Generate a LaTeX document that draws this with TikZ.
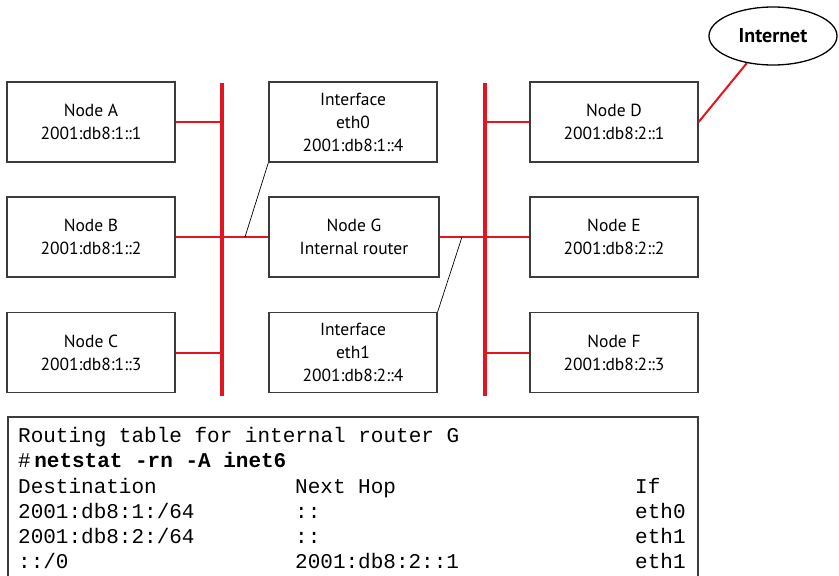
\documentclass[tikz,border=0pt]{standalone}
\usepackage{fontspec}
\setmainfont{PT Sans}
\newfontfamily\tabfont{Liberation Mono}
\usetikzlibrary{shapes.geometric}
\definecolor{boxline}{RGB}{60,60,60}
\definecolor{netred}{RGB}{230,20,30}
\tikzset{
  hostbox/.style={draw=boxline, line width=1.3pt, minimum width=168pt, minimum height=80pt,
    align=center, inner sep=0pt, font=\fontsize{17.5}{23}\selectfont},
  bus/.style={draw=netred, line width=4pt},
  branch/.style={draw=netred, line width=2pt},
  lead/.style={draw=black, line width=0.7pt},
  tabtext/.style={anchor=base west, inner sep=0pt, font=\tabfont\fontsize{21}{25}\selectfont},
}
\begin{document}
\begin{tikzpicture}[x=1pt,y=-1pt]
\useasboundingbox (0,0) rectangle (839,576);
% buses
\coordinate (b1t) at (222,83);
\coordinate (b1b) at (222,396);
\coordinate (b2t) at (485,83);
\coordinate (b2b) at (485,396);
\draw[bus] (b1t) -- (b1b);
\draw[bus] (b2t) -- (b2b);
% boxes
\node[hostbox] (A) at (91,122) {Node A\\2001:db8:1::1};
\node[hostbox] (B) at (91,237) {Node B\\2001:db8:1::2};
\node[hostbox] (C) at (91,352.5) {Node C\\2001:db8:1::3};
\node[hostbox] (eth0) at (353,122) {Interface\\eth0\\2001:db8:1::4};
\node[hostbox, minimum width=170pt] (G) at (354,237) {Node G\\Internal router};
\node[hostbox] (eth1) at (353,352.5) {Interface\\eth1\\2001:db8:2::4};
\node[hostbox] (D) at (614,122) {Node D\\2001:db8:2::1};
\node[hostbox] (E) at (614,237) {Node E\\2001:db8:2::2};
\node[hostbox] (F) at (614,352.5) {Node F\\2001:db8:2::3};
\node[draw=black, line width=1.3pt, ellipse, minimum width=128pt, minimum height=58pt,
  inner sep=0pt, font=\fontsize{20}{22}\selectfont\bfseries] (inet) at (773,36) {Internet};
% branches
\draw[branch] (A.east) -- (A.east -| b1t);
\draw[branch] (B.east) -- (G.west);
\draw[branch] (C.east) -- (C.east -| b1t);
\draw[branch] (D.west) -- (D.west -| b2t);
\draw[branch] (G.east) -- (E.west);
\draw[branch] (F.west) -- (F.west -| b2t);
\draw[branch] (D.east) -- (inet.226);
% leads
\coordinate (l0) at (245,237);
\coordinate (l1) at (462,237);
\draw[lead] (eth0.south west) -- (l0);
\draw[lead] (eth1.north east) -- (l1);
% table
\coordinate (tl) at (8,417);
\coordinate (tr) at (698,417);
\coordinate (tlb) at (8,576);
\coordinate (trb) at (698,576);
\draw[draw=boxline, line width=1.3pt] (tlb) -- (tl) -- (tr) -- (trb);
\node[tabtext] (t1) at (18,442) {Routing table for internal router G};
\node[tabtext] (t2) at (18,467) {\#\,\bfseries netstat -rn -A inet6};
\node[tabtext] (t3a) at (18,493) {Destination};
\node[tabtext] (t3b) at (295,493) {Next Hop};
\node[tabtext] (t3c) at (635,493) {If};
\node[tabtext] (t4a) at (18,518) {2001:db8:1:/64};
\node[tabtext] (t4b) at (295,518) {::};
\node[tabtext] (t4c) at (635,518) {eth0};
\node[tabtext] (t5a) at (18,543) {2001:db8:2:/64};
\node[tabtext] (t5b) at (295,543) {::};
\node[tabtext] (t5c) at (635,543) {eth1};
\node[tabtext] (t6a) at (18,568) {::/0};
\node[tabtext] (t6b) at (295,568) {2001:db8:2::1};
\node[tabtext] (t6c) at (635,568) {eth1};
\end{tikzpicture}
\end{document}
